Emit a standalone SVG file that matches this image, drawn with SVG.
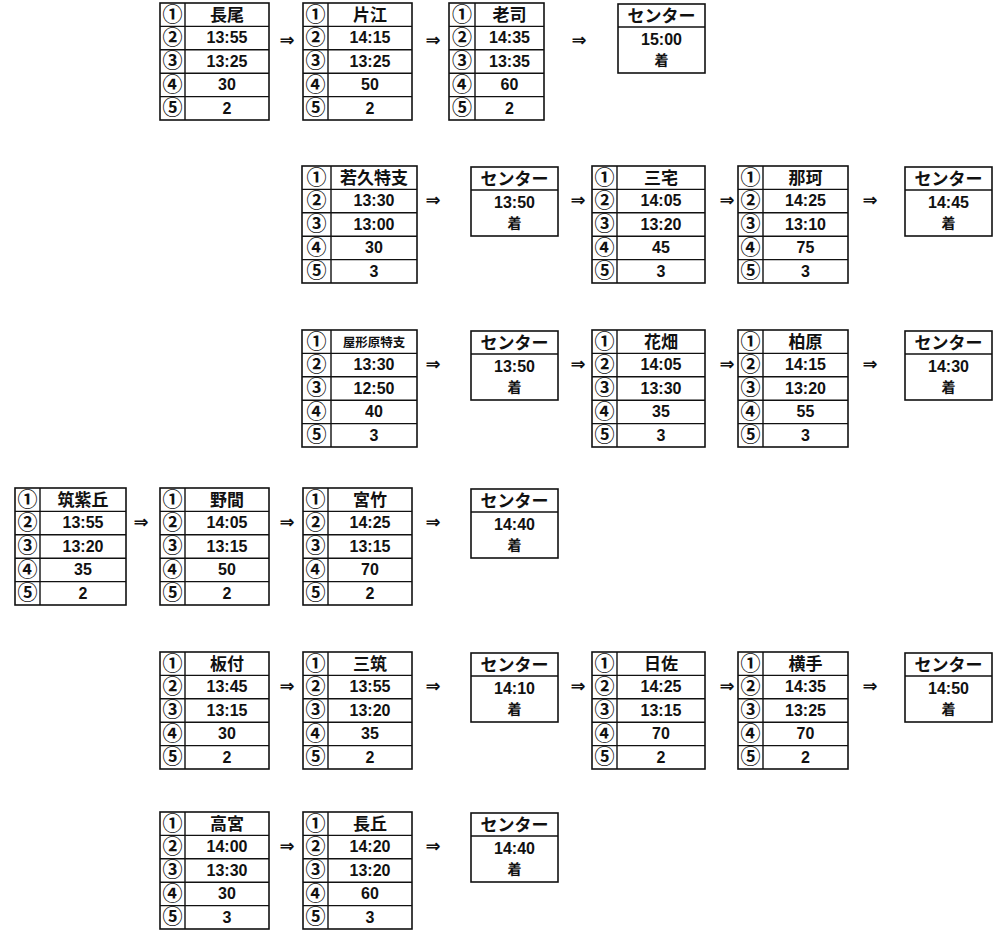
<svg xmlns="http://www.w3.org/2000/svg" width="1005" height="933" viewBox="0 0 1005 933">
<style>
.b{fill:#fff;stroke:#111;stroke-width:1.6}
.l{fill:none;stroke:#111;stroke-width:1.4}
.c{font-family:"Noto Sans CJK JP","DejaVu Sans",sans-serif;font-weight:bold;font-size:20px;text-anchor:middle;fill:#111}
.v{font-family:"Liberation Sans",Arial,sans-serif;font-weight:bold;font-size:16px;text-anchor:middle;fill:#111}
.j{font-family:"Noto Sans CJK JP",sans-serif;font-weight:bold;font-size:17px;text-anchor:middle;fill:#111}
.js{font-family:"Noto Sans CJK JP",sans-serif;font-weight:bold;font-size:12.5px;text-anchor:middle;fill:#111}
.k{font-family:"Noto Sans CJK JP",sans-serif;font-weight:bold;font-size:14px;text-anchor:middle;fill:#111}
.a{font-family:"DejaVu Sans",sans-serif;font-weight:bold;font-size:18px;text-anchor:middle;fill:#111}
</style>
<defs>
<g id="grid109"><rect class="b" width="109" height="117"/><path class="l" d="M25 0V117M0 23.4H109M0 46.8H109M0 70.2H109M0 93.6H109"/></g>
<g id="grid95"><rect class="b" width="95" height="117"/><path class="l" d="M26 0V117M0 23.4H95M0 46.8H95M0 70.2H95M0 93.6H95"/></g>
<g id="grid115"><rect class="b" width="115" height="117"/><path class="l" d="M29 0V117M0 23.4H115M0 46.8H115M0 70.2H115M0 93.6H115"/></g>
<g id="grid113"><rect class="b" width="113" height="117"/><path class="l" d="M25 0V117M0 23.4H113M0 46.8H113M0 70.2H113M0 93.6H113"/></g>
<g id="grid110"><rect class="b" width="110" height="117"/><path class="l" d="M25 0V117M0 23.4H110M0 46.8H110M0 70.2H110M0 93.6H110"/></g>
<g id="grid111"><rect class="b" width="111" height="117"/><path class="l" d="M25 0V117M0 23.4H111M0 46.8H111M0 70.2H111M0 93.6H111"/></g>
<g id="nums25"><text class="c" x="12.5" y="18.5">①</text><text class="c" x="12.5" y="41.9">②</text><text class="c" x="12.5" y="65.3">③</text><text class="c" x="12.5" y="88.7">④</text><text class="c" x="12.5" y="112.1">⑤</text></g>
<g id="nums26"><text class="c" x="13" y="18.5">①</text><text class="c" x="13" y="41.9">②</text><text class="c" x="13" y="65.3">③</text><text class="c" x="13" y="88.7">④</text><text class="c" x="13" y="112.1">⑤</text></g>
<g id="nums29"><text class="c" x="14.5" y="18.5">①</text><text class="c" x="14.5" y="41.9">②</text><text class="c" x="14.5" y="65.3">③</text><text class="c" x="14.5" y="88.7">④</text><text class="c" x="14.5" y="112.1">⑤</text></g>
<g id="cbox"><rect class="b" width="87" height="69"/><path class="l" d="M0 23H87"/><text class="j" x="43.5" y="17.5">センター</text><text class="k" x="43.5" y="61">着</text></g>
</defs>

<!-- Row 1 -->
<g id="n-nagao" transform="translate(160,3)"><use href="#grid109"/><use href="#nums25"/><text class="j" x="67" y="18">長尾</text><text class="v" x="67" y="40.4">13:55</text><text class="v" x="67" y="63.8">13:25</text><text class="v" x="67" y="87.2">30</text><text class="v" x="67" y="110.6">2</text></g>
<g id="n-katae" transform="translate(303,3)"><use href="#grid109"/><use href="#nums25"/><text class="j" x="67" y="18">片江</text><text class="v" x="67" y="40.4">14:15</text><text class="v" x="67" y="63.8">13:25</text><text class="v" x="67" y="87.2">50</text><text class="v" x="67" y="110.6">2</text></g>
<g id="n-rouji" transform="translate(449,3)"><use href="#grid95"/><use href="#nums26"/><text class="j" x="60.5" y="18">老司</text><text class="v" x="60.5" y="40.4">14:35</text><text class="v" x="60.5" y="63.8">13:35</text><text class="v" x="60.5" y="87.2">60</text><text class="v" x="60.5" y="110.6">2</text></g>
<g id="c-1" transform="translate(618,4)"><use href="#cbox"/><text class="v" x="43.5" y="41">15:00</text></g>

<!-- Row 2 -->
<g id="n-wakuhisa" transform="translate(302,166)"><use href="#grid115"/><use href="#nums29"/><text class="j" x="72" y="18">若久特支</text><text class="v" x="72" y="40.4">13:30</text><text class="v" x="72" y="63.8">13:00</text><text class="v" x="72" y="87.2">30</text><text class="v" x="72" y="110.6">3</text></g>
<g id="c-2a" transform="translate(471,167)"><use href="#cbox"/><text class="v" x="43.5" y="41">13:50</text></g>
<g id="n-miyake" transform="translate(592,166)"><use href="#grid113"/><use href="#nums25"/><text class="j" x="69" y="18">三宅</text><text class="v" x="69" y="40.4">14:05</text><text class="v" x="69" y="63.8">13:20</text><text class="v" x="69" y="87.2">45</text><text class="v" x="69" y="110.6">3</text></g>
<g id="n-naka" transform="translate(738,166)"><use href="#grid110"/><use href="#nums25"/><text class="j" x="67.5" y="18">那珂</text><text class="v" x="67.5" y="40.4">14:25</text><text class="v" x="67.5" y="63.8">13:10</text><text class="v" x="67.5" y="87.2">75</text><text class="v" x="67.5" y="110.6">3</text></g>
<g id="c-2b" transform="translate(905,167)"><use href="#cbox"/><text class="v" x="43.5" y="41">14:45</text></g>

<!-- Row 3 -->
<g id="n-yakatabaru" transform="translate(302,330)"><use href="#grid115"/><use href="#nums29"/><text class="js" x="72" y="16.5">屋形原特支</text><text class="v" x="72" y="40.4">13:30</text><text class="v" x="72" y="63.8">12:50</text><text class="v" x="72" y="87.2">40</text><text class="v" x="72" y="110.6">3</text></g>
<g id="c-3a" transform="translate(471,331)"><use href="#cbox"/><text class="v" x="43.5" y="41">13:50</text></g>
<g id="n-hanabata" transform="translate(592,330)"><use href="#grid113"/><use href="#nums25"/><text class="j" x="69" y="18">花畑</text><text class="v" x="69" y="40.4">14:05</text><text class="v" x="69" y="63.8">13:30</text><text class="v" x="69" y="87.2">35</text><text class="v" x="69" y="110.6">3</text></g>
<g id="n-kashiwara" transform="translate(738,330)"><use href="#grid110"/><use href="#nums25"/><text class="j" x="67.5" y="18">柏原</text><text class="v" x="67.5" y="40.4">14:15</text><text class="v" x="67.5" y="63.8">13:20</text><text class="v" x="67.5" y="87.2">55</text><text class="v" x="67.5" y="110.6">3</text></g>
<g id="c-3b" transform="translate(905,331)"><use href="#cbox"/><text class="v" x="43.5" y="41">14:30</text></g>

<!-- Row 4 -->
<g id="n-chikushigaoka" transform="translate(15,488)"><use href="#grid111"/><use href="#nums25"/><text class="j" x="68" y="18">筑紫丘</text><text class="v" x="68" y="40.4">13:55</text><text class="v" x="68" y="63.8">13:20</text><text class="v" x="68" y="87.2">35</text><text class="v" x="68" y="110.6">2</text></g>
<g id="n-noma" transform="translate(160,488)"><use href="#grid109"/><use href="#nums25"/><text class="j" x="67" y="18">野間</text><text class="v" x="67" y="40.4">14:05</text><text class="v" x="67" y="63.8">13:15</text><text class="v" x="67" y="87.2">50</text><text class="v" x="67" y="110.6">2</text></g>
<g id="n-miyatake" transform="translate(303,488)"><use href="#grid109"/><use href="#nums25"/><text class="j" x="67" y="18">宮竹</text><text class="v" x="67" y="40.4">14:25</text><text class="v" x="67" y="63.8">13:15</text><text class="v" x="67" y="87.2">70</text><text class="v" x="67" y="110.6">2</text></g>
<g id="c-4" transform="translate(471,489)"><use href="#cbox"/><text class="v" x="43.5" y="41">14:40</text></g>

<!-- Row 5 -->
<g id="n-itazuke" transform="translate(160,652)"><use href="#grid109"/><use href="#nums25"/><text class="j" x="67" y="18">板付</text><text class="v" x="67" y="40.4">13:45</text><text class="v" x="67" y="63.8">13:15</text><text class="v" x="67" y="87.2">30</text><text class="v" x="67" y="110.6">2</text></g>
<g id="n-mikasa" transform="translate(303,652)"><use href="#grid109"/><use href="#nums25"/><text class="j" x="67" y="18">三筑</text><text class="v" x="67" y="40.4">13:55</text><text class="v" x="67" y="63.8">13:20</text><text class="v" x="67" y="87.2">35</text><text class="v" x="67" y="110.6">2</text></g>
<g id="c-5a" transform="translate(471,653)"><use href="#cbox"/><text class="v" x="43.5" y="41">14:10</text></g>
<g id="n-hisa" transform="translate(592,652)"><use href="#grid113"/><use href="#nums25"/><text class="j" x="69" y="18">日佐</text><text class="v" x="69" y="40.4">14:25</text><text class="v" x="69" y="63.8">13:15</text><text class="v" x="69" y="87.2">70</text><text class="v" x="69" y="110.6">2</text></g>
<g id="n-yokote" transform="translate(738,652)"><use href="#grid110"/><use href="#nums25"/><text class="j" x="67.5" y="18">横手</text><text class="v" x="67.5" y="40.4">14:35</text><text class="v" x="67.5" y="63.8">13:25</text><text class="v" x="67.5" y="87.2">70</text><text class="v" x="67.5" y="110.6">2</text></g>
<g id="c-5b" transform="translate(905,653)"><use href="#cbox"/><text class="v" x="43.5" y="41">14:50</text></g>

<!-- Row 6 -->
<g id="n-takamiya" transform="translate(160,812)"><use href="#grid109"/><use href="#nums25"/><text class="j" x="67" y="18">高宮</text><text class="v" x="67" y="40.4">14:00</text><text class="v" x="67" y="63.8">13:30</text><text class="v" x="67" y="87.2">30</text><text class="v" x="67" y="110.6">3</text></g>
<g id="n-nagaoka" transform="translate(303,812)"><use href="#grid109"/><use href="#nums25"/><text class="j" x="67" y="18">長丘</text><text class="v" x="67" y="40.4">14:20</text><text class="v" x="67" y="63.8">13:20</text><text class="v" x="67" y="87.2">60</text><text class="v" x="67" y="110.6">3</text></g>
<g id="c-6" transform="translate(471,813)"><use href="#cbox"/><text class="v" x="43.5" y="41">14:40</text></g>

<g id="connectors">
<text class="a" x="287" y="46">⇒</text><text class="a" x="433" y="46">⇒</text><text class="a" x="579" y="46">⇒</text>
<text class="a" x="433" y="206">⇒</text><text class="a" x="578" y="206">⇒</text><text class="a" x="727" y="206">⇒</text><text class="a" x="870" y="206">⇒</text>
<text class="a" x="433" y="370">⇒</text><text class="a" x="578" y="370">⇒</text><text class="a" x="727" y="370">⇒</text><text class="a" x="870" y="370">⇒</text>
<text class="a" x="141" y="528">⇒</text><text class="a" x="287" y="528">⇒</text><text class="a" x="433" y="528">⇒</text>
<text class="a" x="287" y="692">⇒</text><text class="a" x="433" y="692">⇒</text><text class="a" x="578" y="692">⇒</text><text class="a" x="727" y="692">⇒</text><text class="a" x="870" y="692">⇒</text>
<text class="a" x="287" y="852">⇒</text><text class="a" x="433" y="852">⇒</text>
</g>
</svg>
